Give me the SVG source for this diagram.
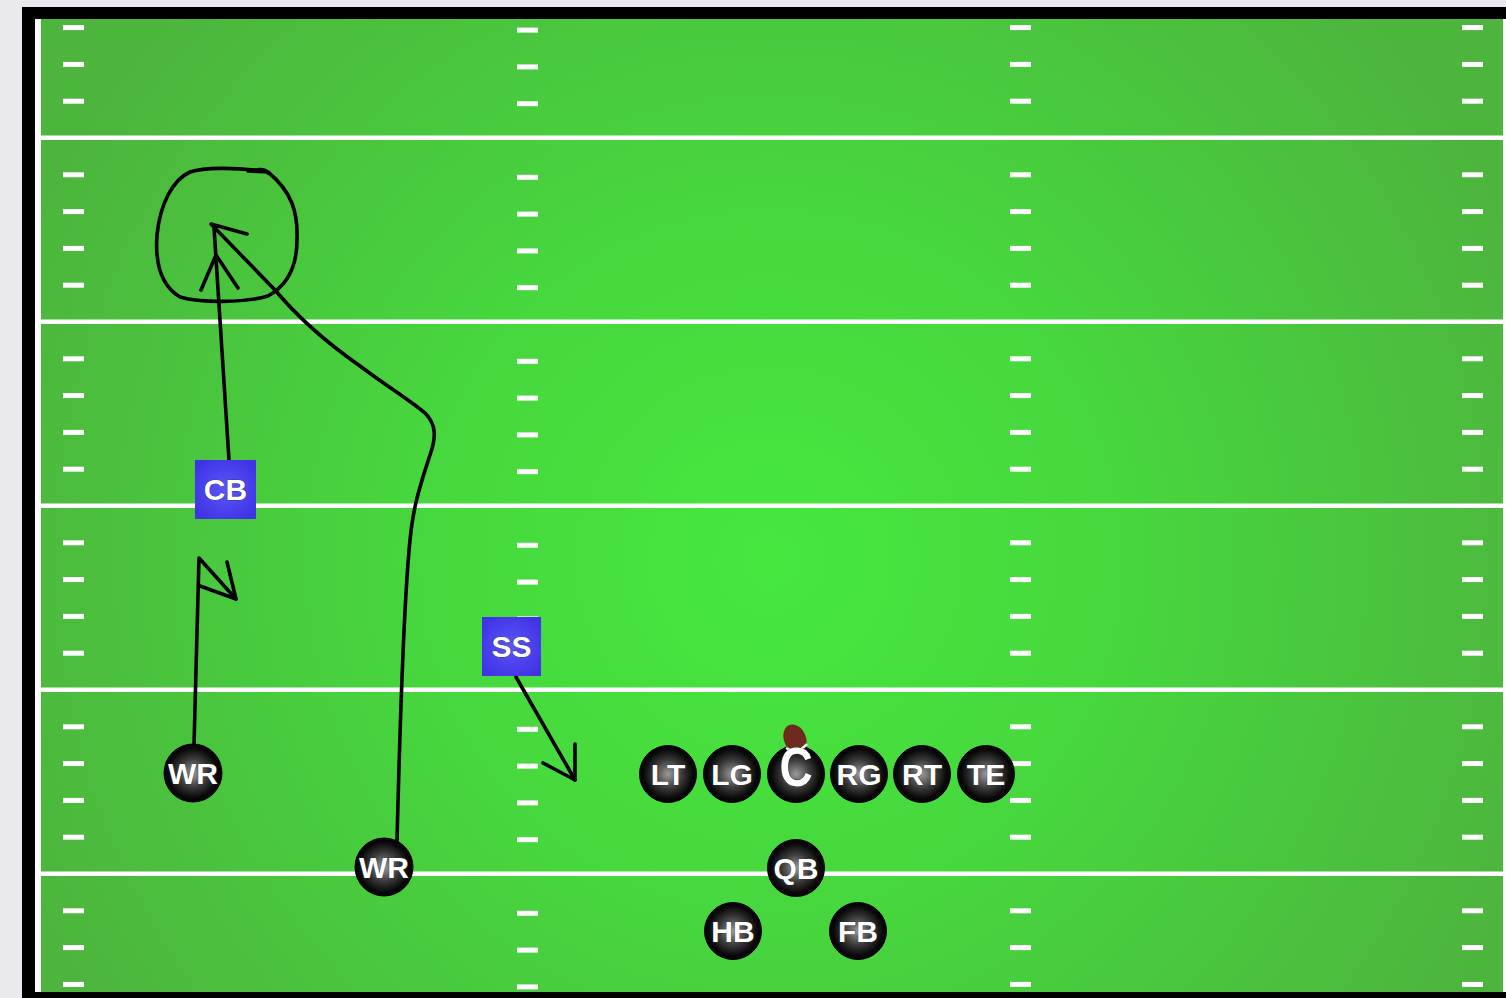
<svg xmlns="http://www.w3.org/2000/svg" xmlns:xlink="http://www.w3.org/1999/xlink" width="1506" height="998" viewBox="0 0 1506 998">
<defs>
<radialGradient id="turf" gradientUnits="userSpaceOnUse" cx="770" cy="560" r="820">
<stop offset="0" stop-color="#46e83e"/>
<stop offset="0.45" stop-color="#47d63e"/>
<stop offset="1" stop-color="#4db43d"/>
</radialGradient>
<radialGradient id="ball" cx="50%" cy="50%" r="50%">
<stop offset="0" stop-color="#9a9a9a"/>
<stop offset="0.5" stop-color="#3a3a3a"/>
<stop offset="0.85" stop-color="#0a0a0a"/>
<stop offset="1" stop-color="#000"/>
</radialGradient>
<radialGradient id="blue" cx="50%" cy="50%" r="60%">
<stop offset="0" stop-color="#5a56f6"/>
<stop offset="1" stop-color="#4033e6"/>
</radialGradient>
<g id="row">
<rect class="tick" x="63" y="-2.5" width="21" height="5"/>
<rect class="tick" x="517" y="0" width="21" height="5"/>
<rect class="tick" x="1010" y="-2.5" width="21" height="5"/>
<rect class="tick" x="1462" y="-2.5" width="21" height="5"/>
</g>
</defs>
<style>
.tick{fill:#fff;}
.yl{fill:#fff;}
.player circle{fill:url(#ball);stroke:#000;stroke-width:1;}
.player text,.def text{fill:#fff;font-family:"Liberation Sans",Arial,sans-serif;font-weight:bold;font-size:30px;text-anchor:middle;stroke:#222;stroke-width:0.6;paint-order:stroke;}
.def rect{fill:url(#blue);}
.route{fill:none;stroke:#000;stroke-width:3.6;stroke-linecap:round;stroke-linejoin:round;}
</style>
<rect x="0" y="0" width="1506" height="998" fill="#e9e9ee"/>
<rect x="22" y="7" width="1484" height="991" fill="#000"/>
<rect x="35" y="19" width="1471" height="973" fill="url(#turf)"/>
<rect x="35" y="19" width="6" height="973" fill="#fff"/>
<rect x="1503" y="19" width="3" height="973" fill="#fff"/>
<g id="yardlines">
<rect class="yl" x="41" y="135.5" width="1462" height="4.5"/>
<rect class="yl" x="41" y="319.5" width="1462" height="4.5"/>
<rect class="yl" x="41" y="503.5" width="1462" height="4.5"/>
<rect class="yl" x="41" y="687.5" width="1462" height="4.5"/>
<rect class="yl" x="41" y="871.5" width="1462" height="4.5"/>
</g>
<g id="hashmarks">
<use xlink:href="#row" y="27.6"/>
<use xlink:href="#row" y="64.4"/>
<use xlink:href="#row" y="101.2"/>
<use xlink:href="#row" y="174.8"/>
<use xlink:href="#row" y="211.6"/>
<use xlink:href="#row" y="248.4"/>
<use xlink:href="#row" y="285.2"/>
<use xlink:href="#row" y="358.8"/>
<use xlink:href="#row" y="395.6"/>
<use xlink:href="#row" y="432.4"/>
<use xlink:href="#row" y="469.2"/>
<use xlink:href="#row" y="542.8"/>
<use xlink:href="#row" y="579.6"/>
<use xlink:href="#row" y="616.4"/>
<use xlink:href="#row" y="653.2"/>
<use xlink:href="#row" y="726.8"/>
<use xlink:href="#row" y="763.6"/>
<use xlink:href="#row" y="800.4"/>
<use xlink:href="#row" y="837.2"/>
<use xlink:href="#row" y="910.8"/>
<use xlink:href="#row" y="947.6"/>
<use xlink:href="#row" y="984.4"/>
</g>
<g id="connectors">
<path class="route" d="M268,173 C266,170 262,169 255,170 C235,168 205,167 190,172 C172,180 160,205 157,235 C155,262 160,285 180,297 C200,303 245,303 268,296 C288,285 297,265 297,240 C298,212 292,192 268,172 L248,171"/>
<path class="route" d="M229,460 L214,227"/>
<path class="route" d="M201,290 L216,255 L238,288"/>
<path class="route" d="M397,842 C400,720 404,600 410,540 C413,505 422,480 430,455 C436,438 437,425 425,413 C410,400 385,385 360,366 C330,345 300,320 275,290 L211,224 L247,234"/>
<path class="route" d="M194,745 L199,558 L236,599"/>
<path class="route" d="M200,586 L236,599 L227,562"/>
<path class="route" d="M516,677 L575,780"/>
<path class="route" d="M543,763 L575,780 L575,744"/>
</g>
<g id="cb" class="def"><rect x="195" y="460" width="61" height="59"/><text x="225.5" y="500">CB</text></g>
<g id="ss" class="def"><rect x="482" y="617" width="59" height="59"/><text x="511.5" y="657">SS</text></g>
<g id="wr1" class="player"><circle cx="193" cy="773" r="29"/><text x="193" y="784">WR</text></g>
<g id="wr2" class="player"><circle cx="384" cy="867" r="29"/><text x="384" y="878">WR</text></g>
<g id="lt" class="player"><circle cx="668" cy="774" r="28.5"/><text x="668" y="785">LT</text></g>
<g id="lg" class="player"><circle cx="732" cy="774" r="28.5"/><text x="732" y="785">LG</text></g>
<g id="c" class="player"><circle cx="796" cy="774" r="28.5"/>
<g id="football"><ellipse cx="795" cy="739" rx="11" ry="15" transform="rotate(-22 795 739)" fill="#6e2a1e"/><path d="M786,748 Q797,755 807,744" fill="none" stroke="#fff" stroke-width="2.5"/></g>
<text transform="translate(796 786) scale(1 1.2)" style="font-size:46px">C</text></g>
<g id="rg" class="player"><circle cx="859" cy="774" r="28.5"/><text x="859" y="785">RG</text></g>
<g id="rt" class="player"><circle cx="922" cy="774" r="28.5"/><text x="922" y="785">RT</text></g>
<g id="te" class="player"><circle cx="986" cy="774" r="28.5"/><text x="986" y="785">TE</text></g>
<g id="qb" class="player"><circle cx="796" cy="868" r="28.5"/><text x="796" y="879">QB</text></g>
<g id="hb" class="player"><circle cx="733" cy="931" r="28.5"/><text x="733" y="942">HB</text></g>
<g id="fb" class="player"><circle cx="858" cy="931" r="28.5"/><text x="858" y="942">FB</text></g>
</svg>
